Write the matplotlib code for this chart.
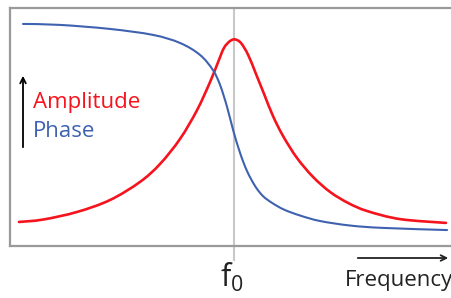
import matplotlib
matplotlib.use('Agg')
import matplotlib.pyplot as plt
from matplotlib.path import Path
from matplotlib.patches import PathPatch

# frequency in units where f0 = 100, response in % of box height
amp_f = [4.0, 14.7, 29.9, 44.6, 58.0, 67.0, 75.9, 83.5, 89.3, 92.9, 95.5,
         98.2, 100.4, 103.1, 106.3, 109.8, 113.4, 117.4, 121.9, 128.1, 135.3,
         142.9, 150.9, 159.4, 174.1, 194.6]
amp_v = [10.1, 11.1, 14.3, 19.3, 26.9, 34.5, 45.0, 57.1, 68.9, 77.3, 83.2,
         86.1, 86.8, 85.3, 80.3, 72.3, 63.9, 54.6, 46.2, 37.0, 29.0,
         22.7, 18.1, 14.7, 11.3, 9.7]

phase_f = [5.8, 22.3, 44.6, 63.8, 75.9, 84.8, 90.6, 93.8, 96.9, 99.6,
           102.7, 105.8, 109.4, 112.9, 117.0, 122.3, 129.5, 138.4, 151.8,
           166.5, 195.1]
phase_v = [93.3, 92.9, 91.2, 88.7, 85.3, 80.3, 73.9, 67.6, 58.4, 48.7,
           39.1, 31.5, 25.2, 21.0, 18.1, 15.3, 12.8, 10.5, 8.6,
           7.6, 6.7]

f0 = 100
red = '#f5141e'
blue = '#3f62b0'


def smooth_path(xs, ys):
    # bezier segments through the read points (catmull-rom handles)
    n = len(xs)
    verts = [(xs[0], ys[0])]
    codes = [Path.MOVETO]
    for i in range(n - 1):
        a, b = max(i - 1, 0), min(i + 2, n - 1)
        c1 = (xs[i] + (xs[i + 1] - xs[a]) / 6, ys[i] + (ys[i + 1] - ys[a]) / 6)
        c2 = (xs[i + 1] - (xs[b] - xs[i]) / 6, ys[i + 1] - (ys[b] - ys[i]) / 6)
        verts += [c1, c2, (xs[i + 1], ys[i + 1])]
        codes += [Path.CURVE4] * 3
    return Path(verts, codes)


plt.rcParams['font.family'] = ['Open Sans', 'DejaVu Sans']

fig = plt.figure(figsize=(4.52, 2.98), dpi=100)
ax = fig.add_axes([10/452, 52/298, 442/452, 238/298])

ax.add_patch(PathPatch(smooth_path(amp_f, amp_v), fill=False, edgecolor=red,
                       linewidth=1.9, capstyle='round'))
ax.add_patch(PathPatch(smooth_path(phase_f, phase_v), fill=False, edgecolor=blue,
                       linewidth=1.5, capstyle='round'))
ax.axvline(f0, ymin=-0.06, ymax=1, color='#c8c8c8', linewidth=1.5,
           clip_on=False, zorder=0)

ax.set_xlim(0, 197.3)
ax.set_ylim(0, 100)
ax.set_xticks([])
ax.set_yticks([])
for s in ['left', 'top', 'bottom']:
    ax.spines[s].set_color('#9a9a9a')
    ax.spines[s].set_linewidth(1.6)
ax.spines['right'].set_visible(False)

# labels
fig.text(33/452, 1 - 108/298, 'Amplitude', color=red, fontsize=16, va='baseline')
fig.text(33/452, 1 - 137/298, 'Phase', color=blue, fontsize=16, va='baseline')
fig.text(345/452, 1 - 286/298, 'Frequency', color='#222222', fontsize=16,
         va='baseline')
fig.text(232/452, 1 - 287/298, r'$\mathregular{f_0}$', color='#222222',
         fontsize=22, ha='center', va='baseline')

# arrows
ax.annotate('', xy=(23/452, 1 - 73/298), xytext=(23/452, 1 - 150/298),
            xycoords='figure fraction', textcoords='figure fraction',
            arrowprops=dict(arrowstyle='->', color='black', lw=1.3))
ax.annotate('', xy=(451/452, 1 - 258/298), xytext=(355/452, 1 - 258/298),
            xycoords='figure fraction', textcoords='figure fraction',
            arrowprops=dict(arrowstyle='->', color='#222222', lw=1.3))

fig.savefig('out.png', dpi=100)
